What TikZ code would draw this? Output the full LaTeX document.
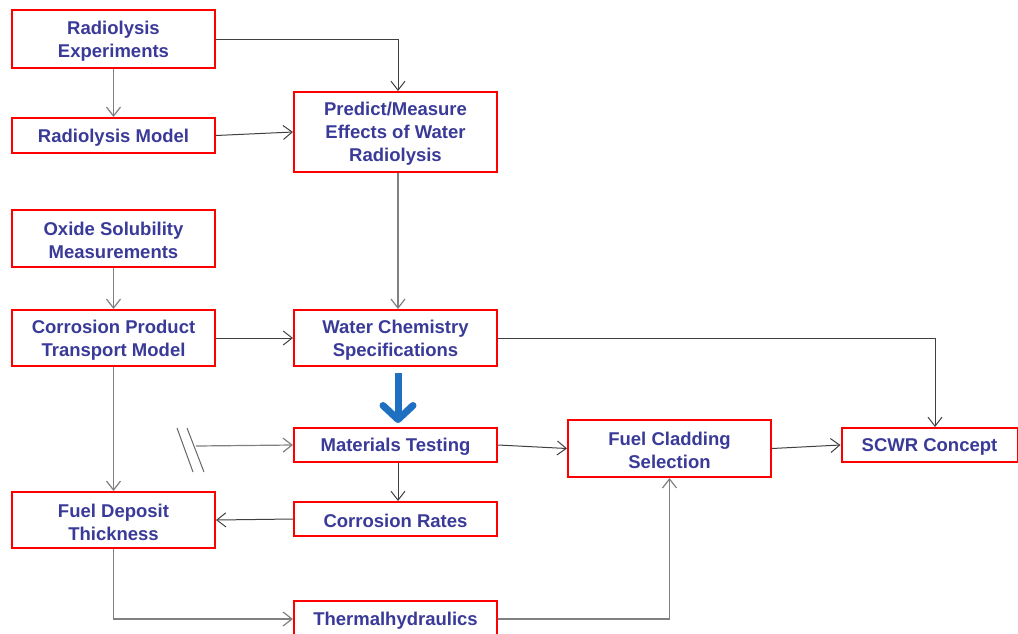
\documentclass[tikz,border=0pt]{standalone}
\usepackage{fontspec}
\setmainfont{Liberation Sans}
\usetikzlibrary{arrows.meta}
\definecolor{txtblue}{HTML}{3A3A98}
\definecolor{boxred}{HTML}{FF0000}
\definecolor{bigblue}{HTML}{1F70C1}
\tikzset{
  box/.style={draw=boxred, line width=2pt, fill=white, minimum width=203, inner sep=0pt},
  lab/.style={align=center, text=txtblue, inner sep=0pt, yshift=-2pt,
    font=\fontsize{18.5}{22.8}\selectfont\bfseries},
  conn/.style={draw=black!75, line width=1pt, -{Straight Barb[length=9pt,width=14pt]}},
  gconn/.style={draw=black!50, line width=1.2pt, -{Straight Barb[length=9pt,width=14pt]}},
}
\begin{document}
\begin{tikzpicture}[x=1pt,y=-1pt]
\useasboundingbox (0,0) rectangle (1018,633);
\node[box, minimum height=58, label={[lab]center:Radiolysis\\Experiments}] (re) at (113.5,39) {};
\node[box, minimum height=35, label={[lab]center:Radiolysis Model}] (rm) at (113.5,135.5) {};
\node[box, minimum height=80, label={[lab]center:Predict/Measure\\Effects of Water\\Radiolysis}] (pm) at (395.5,132) {};
\node[box, minimum height=57, label={[lab]center:Oxide Solubility\\Measurements}] (os) at (113.5,238.5) {};
\node[box, minimum height=56, label={[lab]center:Corrosion Product\\Transport Model}] (cp) at (113.5,338) {};
\node[box, minimum height=56, label={[lab]center:Water Chemistry\\Specifications}] (wc) at (395.5,338) {};
\node[box, minimum height=34, label={[lab]center:Materials Testing}] (mt) at (395.5,445) {};
\node[box, minimum height=57, label={[lab]center:Fuel Cladding\\Selection}] (fc) at (669.5,448.5) {};
\node[box, minimum height=34, minimum width=176, label={[lab]center:SCWR Concept}] (sc) at (929.5,445) {};
\node[box, minimum height=34, label={[lab]center:Corrosion Rates}] (cr) at (395.5,519) {};
\node[box, minimum height=56, label={[lab]center:Fuel Deposit\\Thickness}] (fd) at (113.5,520) {};
\node[box, minimum height=36, label={[lab]center:Thermalhydraulics}] (th) at (395.5,619) {};

\draw[conn] (re.east) -| ([xshift=2.5]pm.north);
\draw[gconn] (re.south) -- (rm.north);
\draw[conn] (rm.east) -- (pm.west);
\draw[gconn] ([xshift=2.5]pm.south) -- ([xshift=2.5]wc.north);
\draw[gconn] (os.south) -- (cp.north);
\draw[conn] (cp.east) -- (wc.west);
\draw[conn] (wc.east) -| ([xshift=5.5]sc.north);
\draw[bigblue, line width=7pt, -{Straight Barb[length=14pt,width=30pt,round,line width=7pt]}, shorten <=6pt, shorten >=4pt] ([xshift=2.5]wc.south) -- ([xshift=2.5]mt.north);
\coordinate (brk) at (196,446);
\draw[black!60, line width=1pt] (177,428) -- (193,472);
\draw[black!60, line width=1pt] (187,428) -- (204,472);
\draw[gconn] (brk) -- (mt.west);
\draw[conn] (mt.east) -- (fc.west);
\draw[conn] ([xshift=2.5]mt.south) -- ([xshift=2.5]cr.north);
\draw[conn] (cr.west) -- (fd.east);
\draw[gconn] (cp.south) -- (fd.north);
\draw[gconn] (fd.south) |- (th.west);
\draw[gconn] (th.east) -| (fc.south);
\draw[conn] (fc.east) -- (sc.west);
\end{tikzpicture}
\end{document}
